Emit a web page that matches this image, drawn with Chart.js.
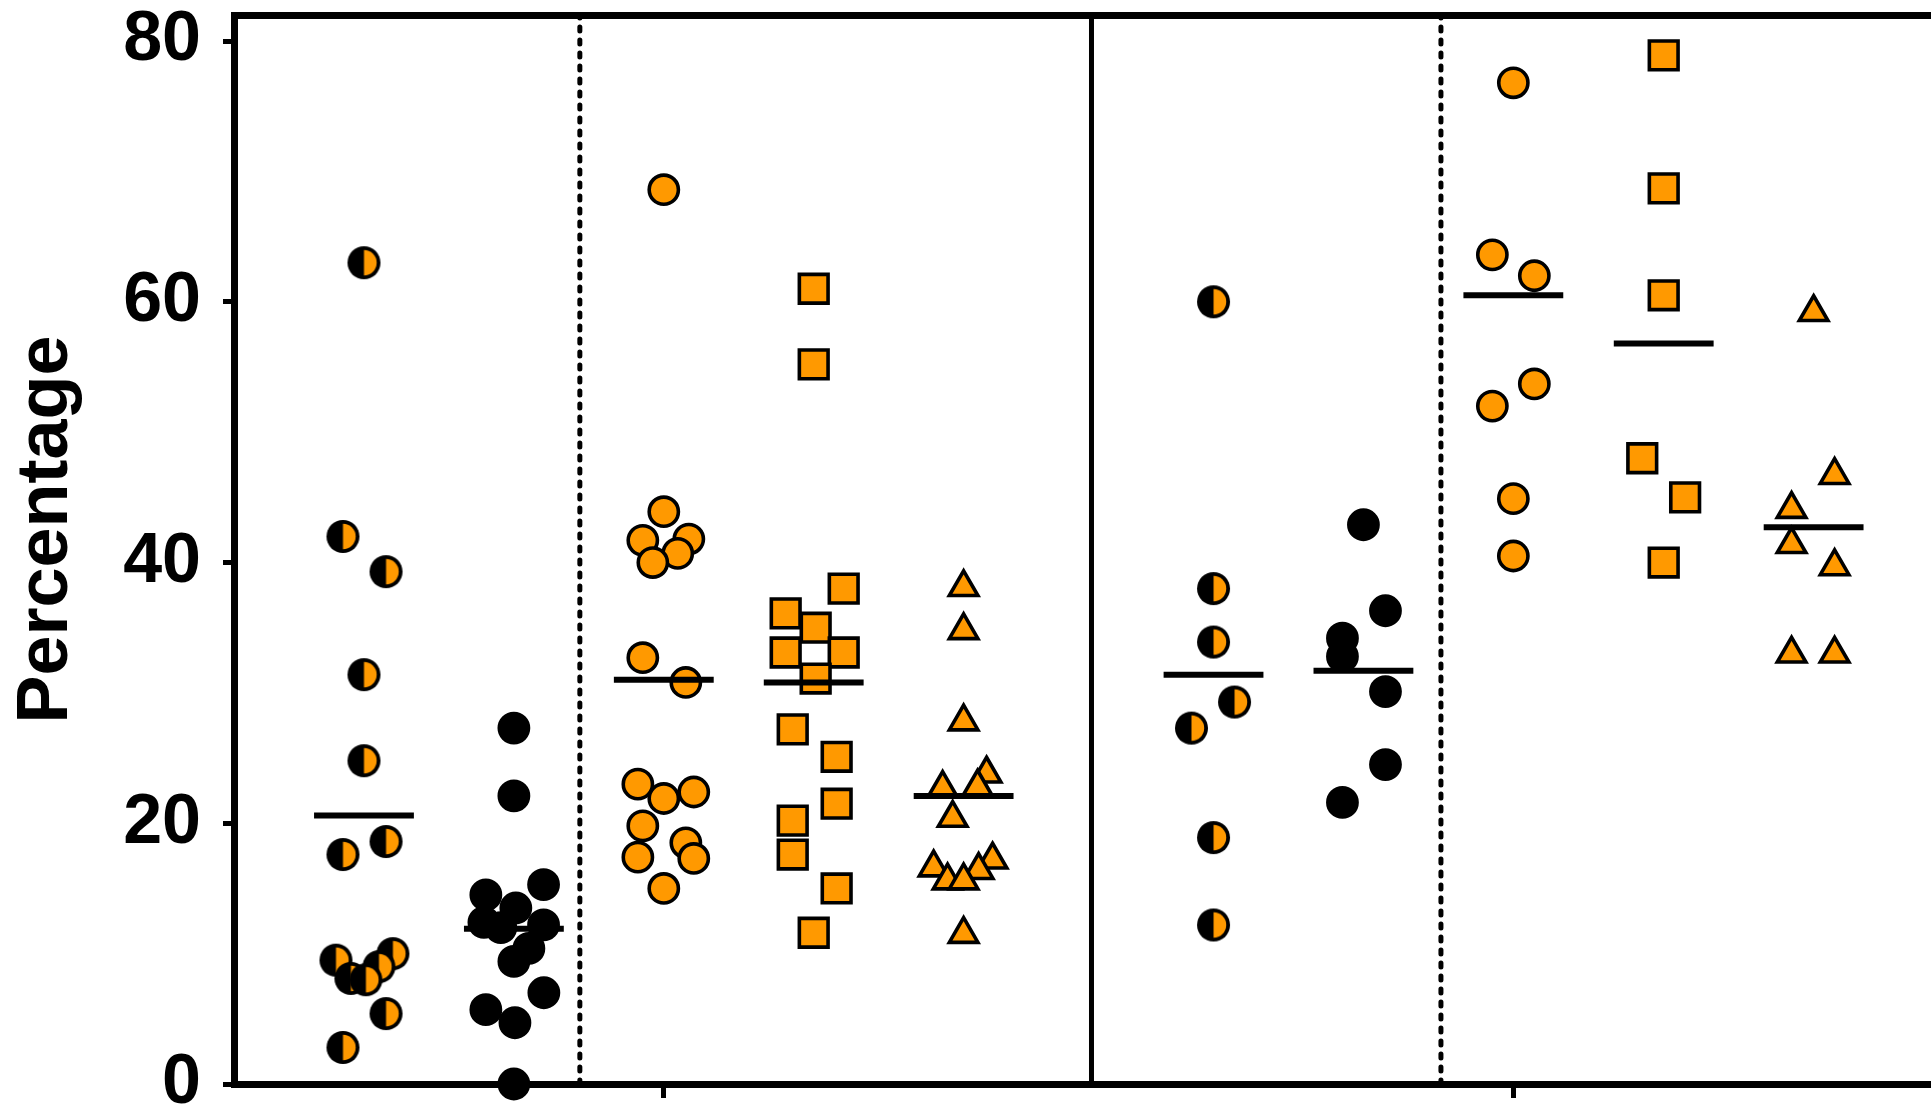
<!DOCTYPE html>
<html>
<head>
<meta charset="utf-8">
<title>Percentage</title>
<script src="https://cdn.jsdelivr.net/npm/chart.js@4.4.1/dist/chart.umd.min.js"></script>
<style>
  html, body { margin: 0; padding: 0; background: #fff; }
  canvas { display: block; }
</style>
</head>
<body>
<canvas id="dots" width="1931" height="1110"></canvas>
<script>
// x position of each group (two panels of five groups)
const groupCenters = [1, 2, 3, 4, 5, 6.667, 7.667, 8.667, 9.67, 10.67];

// values, with the sideways spread of each dot
const g1Values = [63.0, 42.0, 39.3, 31.4, 24.8, 18.6, 17.6, 10.0, 9.5, 9.0, 8.1, 8.0, 5.4, 2.8];
const g1Jitter = [0, -0.14, 0.147, 0, 0, 0.147, -0.14, 0.193, -0.187, 0.1, -0.087, 0.013, 0.147, -0.14];

const g2Values = [27.3, 22.1, 15.3, 14.5, 13.5, 12.4, 12.2, 12.0, 10.4, 9.4, 7.0, 5.7, 4.7, 0];
const g2Jitter = [0, 0, 0.198, -0.187, 0.013, -0.2, 0.198, -0.087, 0.1, 0, 0.2, -0.187, 0.007, 0];

const g3Values = [68.6, 43.9, 41.8, 41.7, 40.7, 40.0, 32.7, 30.8, 23.0, 22.4, 21.9, 19.8, 18.5, 17.3, 17.4, 15.0];
const g3Jitter = [0, 0, 0.167, -0.14, 0.093, -0.073, -0.14, 0.147, -0.173, 0.2, 0, -0.14, 0.147, 0.2, -0.173, 0];

const g4Values = [61.0, 55.2, 38.0, 36.1, 35.0, 33.1, 33.1, 31.1, 27.2, 25.1, 21.5, 20.2, 17.6, 15.0, 11.6];
const g4Jitter = [0, 0, 0.2, -0.187, 0.013, -0.187, 0.2, 0.013, -0.14, 0.153, 0.153, -0.14, -0.14, 0.153, 0];

const g5Values = [38.1, 34.8, 27.8, 23.8, 22.7, 22.8, 20.4, 17.2, 16.6, 16.4, 15.6, 15.6, 11.5];
const g5Jitter = [0, 0, 0, 0.153, -0.14, 0.093, -0.073, 0.193, -0.2, 0.1, -0.107, 0, 0];

const g6Values = [60.0, 38.0, 33.9, 29.3, 27.3, 18.9, 12.2];
const g6Jitter = [0, 0, 0, 0.14, -0.147, 0, 0];

const g7Values = [42.9, 36.3, 34.2, 32.8, 30.1, 24.5, 21.6];
const g7Jitter = [0, 0.147, -0.14, -0.14, 0.147, 0.147, -0.14];

const g8Values = [76.8, 63.6, 62.0, 53.7, 52.0, 44.9, 40.5];
const g8Jitter = [0, -0.14, 0.14, 0.14, -0.14, 0, 0];

const g9Values = [78.9, 68.7, 60.5, 48.0, 45.0, 40.0];
const g9Jitter = [0, 0, 0, -0.143, 0.143, 0];

const g10Values = [59.2, 46.7, 44.1, 41.4, 39.7, 33.0, 33.0];
const g10Jitter = [0, 0.14, -0.147, -0.147, 0.14, -0.147, 0.14];

// horizontal bar drawn for every group
const groupMeans = [20.6, 11.9, 31.0, 30.8, 22.1, 31.4, 31.7, 60.5, 56.8, 42.7];

const yTicks = [0, 20, 40, 60, 80];
const xTicks = [3, 8.667];

const orange = '#FF9900';
const fontFamily = "'Liberation Sans', Arial, Helvetica, sans-serif";

// dot that is black on the left and orange on the right
function makeHalfDot(r, lw) {
  const size = Math.ceil(2 * r + lw + 2);
  const c = document.createElement('canvas');
  c.width = size;
  c.height = size;
  const g = c.getContext('2d');
  const m = size / 2;
  g.fillStyle = '#000';
  g.beginPath();
  g.arc(m, m, r + lw / 2, 0, Math.PI * 2);
  g.fill();
  g.fillStyle = orange;
  g.beginPath();
  g.arc(m, m, r - lw / 2, -Math.PI / 2, Math.PI / 2);
  g.closePath();
  g.fill();
  return c;
}
const halfDot = makeHalfDot(14.6, 3.8);

const groups = [
  { values: g1Values, jitter: g1Jitter, kind: 'half' },
  { values: g2Values, jitter: g2Jitter, kind: 'black' },
  { values: g3Values, jitter: g3Jitter, kind: 'circle' },
  { values: g4Values, jitter: g4Jitter, kind: 'rect' },
  { values: g5Values, jitter: g5Jitter, kind: 'triangle' },
  { values: g6Values, jitter: g6Jitter, kind: 'half' },
  { values: g7Values, jitter: g7Jitter, kind: 'black' },
  { values: g8Values, jitter: g8Jitter, kind: 'circle' },
  { values: g9Values, jitter: g9Jitter, kind: 'rect' },
  { values: g10Values, jitter: g10Jitter, kind: 'triangle' }
];

function dotStyle(kind) {
  if (kind === 'half') return { pointStyle: halfDot, pointRadius: 16, pointBackgroundColor: orange, pointBorderColor: '#000', pointBorderWidth: 0 };
  if (kind === 'black') return { pointStyle: 'circle', pointRadius: 14.6, pointBackgroundColor: '#000', pointBorderColor: '#000', pointBorderWidth: 3.6 };
  if (kind === 'rect') return { pointStyle: 'rect', pointRadius: 20.3, pointBackgroundColor: orange, pointBorderColor: '#000', pointBorderWidth: 3.6 };
  if (kind === 'triangle') return { pointStyle: 'triangle', pointRadius: 16.5, pointBackgroundColor: orange, pointBorderColor: '#000', pointBorderWidth: 3.6 };
  return { pointStyle: 'circle', pointRadius: 14.6, pointBackgroundColor: orange, pointBorderColor: '#000', pointBorderWidth: 3.6 };
}

const datasets = [];

// mean bars on top
groupMeans.forEach((m, i) => {
  const c = groupCenters[i];
  datasets.push({
    data: [{ x: c - 0.333, y: m }, { x: c + 0.333, y: m }],
    showLine: true,
    borderColor: '#000',
    borderWidth: 6,
    pointRadius: 0,
    order: 0
  });
});

groups.forEach((grp, i) => {
  datasets.push(Object.assign({
    data: grp.values.map((v, k) => ({ x: groupCenters[i] + grp.jitter[k], y: v })),
    showLine: false,
    clip: false,
    order: 1
  }, dotStyle(grp.kind)));
});

// panel dividers
[[2.44, [4, 9], 5], [5.853, [], 5], [8.184, [4, 9], 5]].forEach(([x, dash, w]) => {
  datasets.push({
    data: [{ x: x, y: 0 }, { x: x, y: 82 }],
    showLine: true,
    borderColor: '#000',
    borderWidth: w,
    borderDash: dash,
    borderCapStyle: dash.length ? 'round' : 'butt',
    pointRadius: 0,
    order: 2
  });
});

function noPad(s) {
  s.paddingTop = 0;
  s.paddingBottom = 0;
  s.paddingLeft = 0;
  s.paddingRight = 0;
}

new Chart(document.getElementById('dots'), {
  type: 'scatter',
  data: { datasets: datasets },
  options: {
    responsive: false,
    devicePixelRatio: 1,
    animation: false,
    events: [],
    layout: { padding: 0, autoPadding: false },
    plugins: { legend: { display: false }, tooltip: { enabled: false } },
    scales: {
      x: {
        type: 'linear',
        position: 'bottom',
        min: 0.133,
        max: 11.453,
        afterBuildTicks: s => { s.ticks = xTicks.map(v => ({ value: v })); },
        afterFit: s => { s.height = 26; noPad(s); },
        ticks: { display: false },
        grid: { drawOnChartArea: false, drawTicks: true, tickLength: 14, tickWidth: 5, tickColor: '#000' },
        border: { display: true, color: '#000', width: 7 }
      },
      x2: {
        type: 'linear',
        position: 'top',
        afterFit: s => { s.height = 15; noPad(s); },
        ticks: { display: false },
        grid: { display: false },
        border: { display: true, color: '#000', width: 7 }
      },
      y: {
        type: 'linear',
        position: 'left',
        min: 0,
        max: 82,
        afterBuildTicks: s => { s.ticks = yTicks.map(v => ({ value: v })); },
        afterFit: s => { s.width = 234; noPad(s); },
        ticks: {
          color: '#000',
          padding: 22,
          font: { family: fontFamily, size: 70, weight: 'bold' }
        },
        grid: { drawOnChartArea: false, drawTicks: true, tickLength: 11, tickWidth: 5, tickColor: '#000' },
        border: { display: true, color: '#000', width: 7 },
        title: {
          display: true,
          text: '  Percentage',
          color: '#000',
          font: { family: fontFamily, size: 72, weight: 'bold', lineHeight: 1 },
          padding: { top: 11, bottom: 0 }
        }
      }
    }
  }
});
</script>
</body>
</html>
